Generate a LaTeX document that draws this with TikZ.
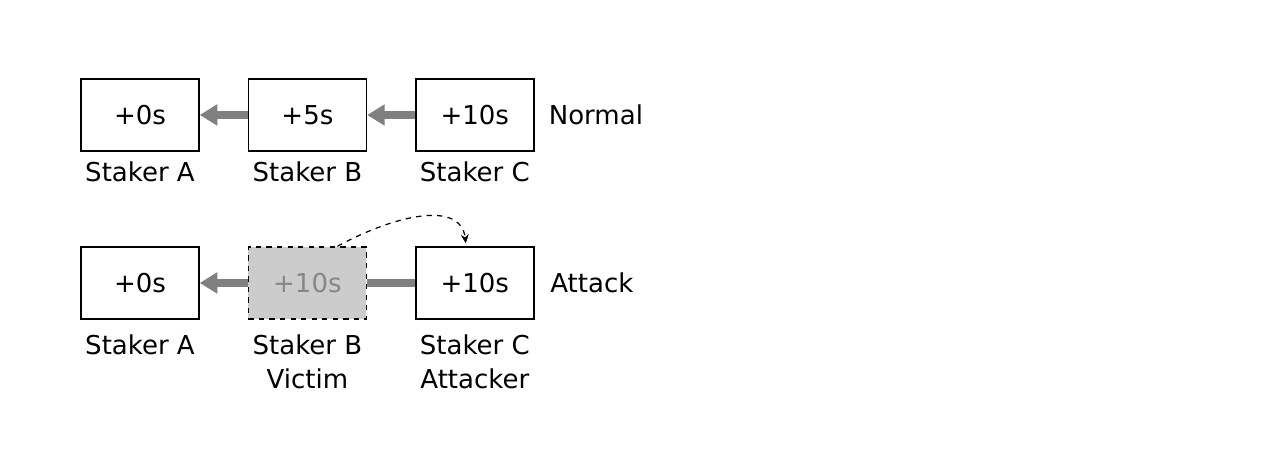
\documentclass[tikz,border=0pt]{standalone}
\usepackage{fontspec}
\setmainfont{DejaVu Sans}
\usetikzlibrary{arrows.meta,calc,positioning}

\begin{document}
\begin{tikzpicture}[>=Latex, font=\fontsize{14.8}{19.3}\selectfont,
  stake/.style={draw, line width=0.8pt, minimum width=2.36cm, minimum height=1.44cm, inner sep=0pt},
  victim/.style={stake, dashed, fill=black!20, text=black!47},
  lbl/.style={below=0.2cm of #1, inner sep=0pt, align=center},
  push/.style={draw=black!50, line width=4.5pt, -{Triangle[length=10pt,width=11.5pt]}}]
  \useasboundingbox (0,0) rectangle (25.6,9.22);

  % Normal row
  \node[stake] (nA) at (2.80,6.92) {+0s};
  \node[stake, right=0.96cm of nA] (nB) {+5s};
  \node[stake, right=0.96cm of nB] (nC) {+10s};
  \node[lbl=nA] {Staker A};
  \node[lbl=nB] {Staker B};
  \node[lbl=nC] {Staker C};
  \node[right=0.28cm of nC, inner sep=0pt] (normal) {Normal};
  \draw[push] (nB) -- (nA);
  \draw[push] (nC) -- (nB);

  % Attack row
  \node[stake] (aA) at (2.80,3.56) {+0s};
  \node[victim, right=0.96cm of aA] (aB) {+10s};
  \node[stake, right=0.96cm of aB] (aC) {+10s};
  \node[lbl=aA, below=0.3cm of aA] {Staker A};
  \node[lbl=aB, below=0.3cm of aB] {Staker B\\Victim};
  \node[lbl=aC, below=0.3cm of aC] {Staker C\\Attacker};
  \node[right=0.31cm of aC, inner sep=0pt] (attack) {Attack};
  \draw[push] (aB) -- (aA);
  \draw[push, -] (aC) -- (aB);

  % Jump of the attacker
  \coordinate (jmpS) at ($(aB.north)+(0.6,0)$);
  \coordinate (jmpE) at ($(aC.north)+(-0.18,0.06)$);
  \draw[dashed, line width=0.7pt, -{Stealth[length=5pt,width=4.5pt]}]
    (jmpS) .. controls ($(jmpS)+(1.2,0.65)$) and ($(jmpE)+(-0.1,0.85)$) .. (jmpE);
\end{tikzpicture}
\end{document}
